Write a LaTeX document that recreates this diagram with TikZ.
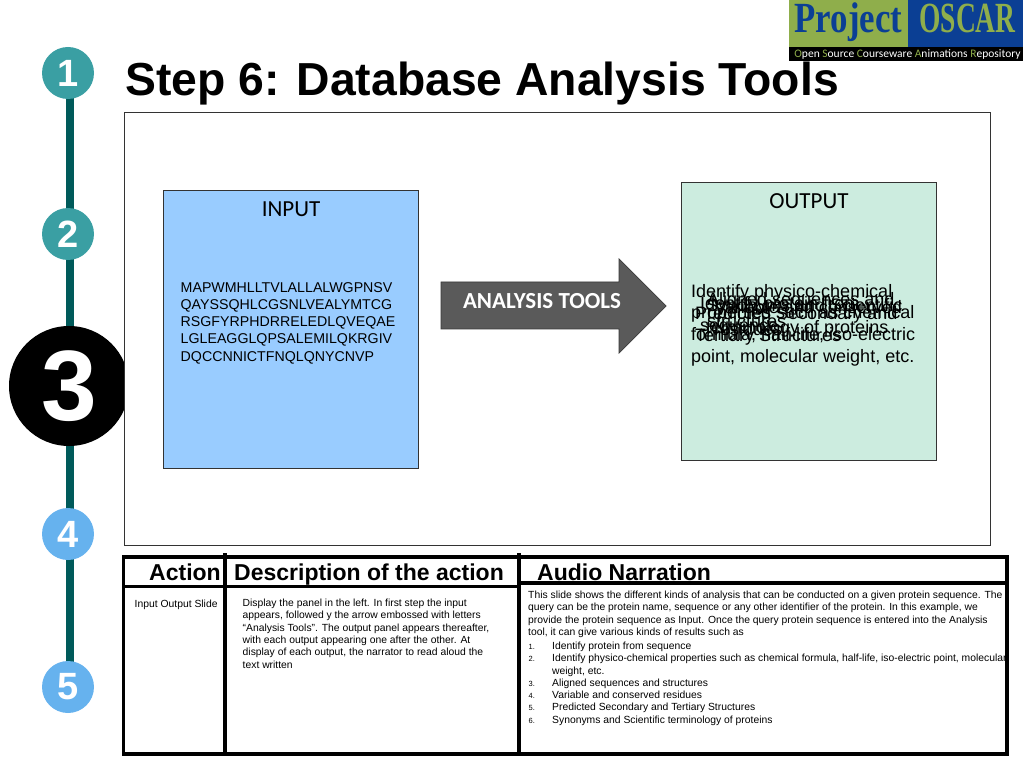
\documentclass[tikz,border=0pt]{standalone}
\usepackage{fontspec}
\setmainfont{Liberation Sans}
\newfontfamily\calibrifont{Carlito}
\newfontfamily\logofont{Liberation Serif}
\definecolor{stemteal}{HTML}{005A5A}
\definecolor{stepteal}{HTML}{3A9FA3}
\definecolor{stepblue}{HTML}{66B2EE}
\definecolor{inputblue}{HTML}{99CCFF}
\definecolor{outputgreen}{HTML}{CCECDF}
\definecolor{logogreen}{HTML}{8FAE4B}
\definecolor{logoblue}{HTML}{0B3F94}
\definecolor{arrowgrey}{HTML}{5A5A5A}
\definecolor{arrowedge}{HTML}{3A3A3A}
\newcommand{\px}[2]{\fontsize{#1}{#2}\selectfont}

\begin{document}
\begin{tikzpicture}[x=1pt,y=-1pt,
    stepdot/.style={circle,minimum size=52pt,inner sep=0pt,text=white,font=\px{38}{38}\bfseries},
    panel/.style={draw=black!80,line width=0.7pt,rectangle,anchor=north west,inner sep=0pt},
    head/.style={anchor=base west,inner sep=0pt,font=\px{23}{23}\bfseries},
    small/.style={anchor=base west,inner sep=0pt,font=\px{10.35}{12.4}},
    itemno/.style={anchor=base west,inner sep=0pt,font=\px{7.5}{7.5}},
    protein/.style={anchor=north west,inner sep=0pt,align=left,font=\px{14.2}{17.1}},
    result/.style={anchor=west,inner sep=0pt,align=left,font=\px{18}{21.7}},
    rule/.style={line width=3.4pt}]
    \useasboundingbox (0,0) rectangle (1023,767);

    % timeline
    \coordinate (top) at (70,73);
    \coordinate (bottom) at (70,687);
    \draw[stemteal,line width=7.5pt] (top)--(bottom);
    \node[stepdot,fill=stepteal] (one) at (68,73) {1};
    \node[stepdot,fill=stepteal] (two) at (68,234) {2};
    \node[stepdot,fill=black,minimum size=120pt,font=\px{100}{100}\bfseries] (three) at (69,386) {3};
    \node[stepdot,fill=stepblue] (four) at (68,534) {4};
    \node[stepdot,fill=stepblue] (five) at (68,687) {5};

    % logo
    \fill[logogreen] (789,0) rectangle (908,47);
    \fill[logoblue] (908,0) rectangle (1023,47);
    \fill[black] (789,47) rectangle (1023,61);
    \node[anchor=base,inner sep=0pt,text=logoblue,font=\logofont\px{43}{43}\bfseries,xscale=.81] (project) at (848.5,33) {Project};
    \node[anchor=base,inner sep=0pt,text=logogreen,font=\logofont\px{43}{43}\bfseries,xscale=.64] (oscar) at (967.5,33) {OSCAR};
    \node[anchor=base,inner sep=0pt,text=white,font=\calibrifont\px{11.5}{11.5}] (repo) at (907.5,58)
      {\textcolor{logogreen}{O}pen \textcolor{logogreen}{S}ource \textcolor{logogreen}{C}ourseware \textcolor{logogreen}{A}nimations \textcolor{logogreen}{R}epository};

    \node[anchor=base west,inner sep=0pt,font=\px{46.3}{46.3}\bfseries] (title) at (125,96) {Step 6: Database Analysis Tools};

    % panels
    \node[panel,fill=white,minimum width=866pt,minimum height=433pt] (stage) at (124.2,112.2) {};
    \node[panel,fill=inputblue,minimum width=255pt,minimum height=278pt] (input) at (163.2,190.2) {};
    \node[panel,fill=outputgreen,minimum width=255pt,minimum height=278pt] (output) at (681.2,182.2) {};
    \node[anchor=base,inner sep=0pt,font=\calibrifont\px{23}{23}] (inlabel) at (291,217) {INPUT};
    \node[anchor=base,inner sep=0pt,font=\calibrifont\px{23}{23}] (outlabel) at (809,209) {OUTPUT};
    \node[protein] (seq) at (180.5,282.5)
      {MAPWMHLLTVLALLALWGPNSV\\QAYSSQHLCGSNLVEALYMTCG\\RSGFYRPHDRRELEDLQVEQAE\\LGLEAGGLQPSALEMILQKRGIV\\DQCCNNICTFNQLQNYCNVP};

    % arrow
    \draw[arrowedge,fill=arrowgrey,line width=0.7pt] (441,282)--(619,282)--(619,259)--(666,306)--(619,353)--(619,329)--(441,329)--cycle;
    \node[anchor=base,inner sep=0pt,text=white,font=\calibrifont\px{23}{23}\bfseries] (tools) at (542,309) {ANALYSIS TOOLS};

    % overlapping outputs
    \node[result] (res1) at (700,316) {Identify protein from\\sequence};
    \node[result] (res2) at (691,325) {Identify physico-chemical\\properties such as chemical\\formula, half-life, iso-electric\\point, molecular weight, etc.};
    \node[result] (res3) at (707,310) {Aligned sequences and\\structures};
    \node[result] (res4) at (714,318) {Variable and conserved\\residues};
    \node[result] (res5) at (695,326) {Predicted Secondary and\\Tertiary Structures};
    \node[result] (res6) at (706,318) {Synonyms and Scientific\\terminology of proteins};

    % table text
    \node[head] (action) at (149,580) {Action};
    \node[head] (descr) at (234,580) {Description of the action};
    \node[head] (audio) at (537,580) {Audio Narration};
    \node[small] (slide) at (134.5,607) {Input Output Slide};
    \node[small,anchor=north west,align=left] (how) at (242.5,598.5)
      {Display the panel in the left. In first step the input\\appears, followed y the arrow embossed with letters\\“Analysis Tools”. The output panel appears thereafter,\\with each output appearing one after the other. At\\display of each output, the narrator to read aloud the\\text written};
    \node[small,anchor=north west,align=left] (talk) at (528,590.5)
      {This slide shows the different kinds of analysis that can be conducted on a given protein sequence. The\\query can be the protein name, sequence or any other identifier of the protein. In this example, we\\provide the protein sequence as Input. Once the query protein sequence is entered into the Analysis\\tool, it can give various kinds of results such as};
    \foreach \n/\y/\t in {1/649/Identify protein from sequence,
        2/661.5/{Identify physico-chemical properties such as chemical formula, half-life, iso-electric point, molecular},
        3/686/Aligned sequences and structures,
        4/698/Variable and conserved residues,
        5/710.5/Predicted Secondary and Tertiary Structures,
        6/723/Synonyms and Scientific terminology of proteins}
      {\node[itemno] (no\n) at (528.5,\y) {\n.};
       \node[small] (item\n) at (552,\y) {\t};}
    \node[small] (itemmore) at (552,674) {weight, etc.};

    % table
    \coordinate (nw) at (123.5,557);
    \coordinate (se) at (1007,754);
    \draw[rule] (nw) rectangle (se);
    \draw[rule] (123.5,586.5)--(519,586.5);
    \draw[rule] (519,583)--(1007,583);
    \draw[rule] (225,553)--(225,754);
    \draw[rule] (519,553)--(519,754);
\end{tikzpicture}
\end{document}
